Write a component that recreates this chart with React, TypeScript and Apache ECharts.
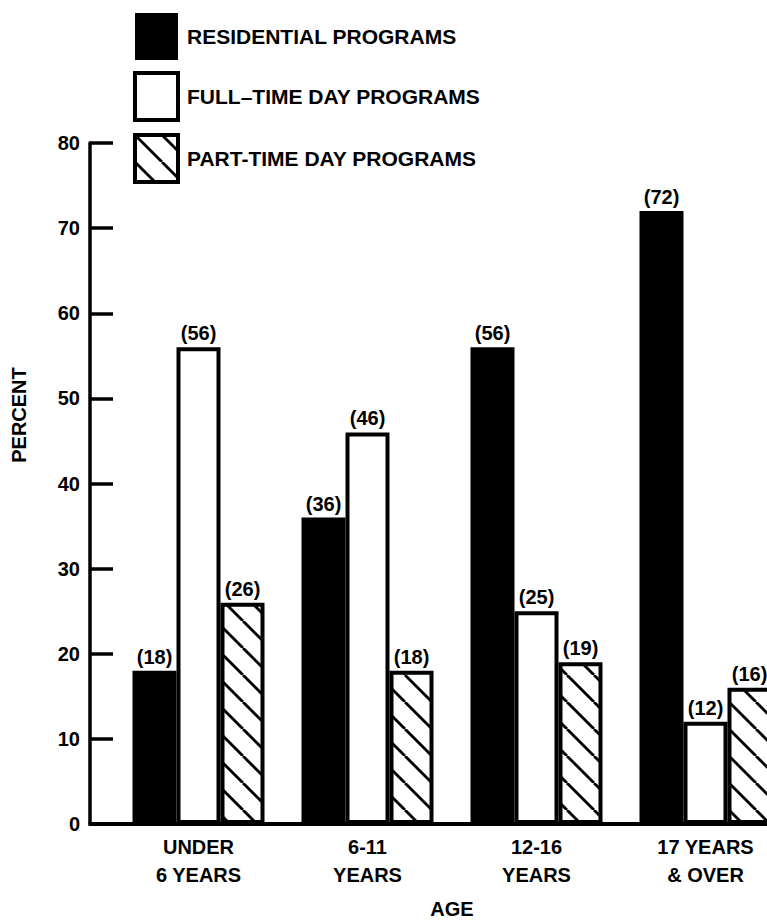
import React, { useEffect, useRef } from "react";
import * as echarts from "echarts";

const categories = ["UNDER\n6 YEARS", "6-11\nYEARS", "12-16\nYEARS", "17 YEARS\n& OVER"];
const seriesNames = ["RESIDENTIAL PROGRAMS", "FULL–TIME DAY PROGRAMS", "PART-TIME DAY PROGRAMS"];
const residential = [18, 36, 56, 72];
const fullTime = [56, 46, 25, 12];
const partTime = [26, 18, 19, 16];
const yMin = 0;
const yMax = 80;
const yInterval = 10;
const xAxisTitle = "AGE";
const yAxisTitle = "PERCENT";

const FONT = '"Liberation Sans", Arial, Helvetica, sans-serif';

function makeHatch() {
  const T = 27;
  const c = document.createElement("canvas");
  c.width = T;
  c.height = T;
  const ctx = c.getContext("2d")!;
  ctx.fillStyle = "#ffffff";
  ctx.fillRect(0, 0, T, T);
  ctx.strokeStyle = "#000000";
  ctx.lineWidth = 2.8;
  for (const o of [-T, 0, T]) {
    ctx.beginPath();
    ctx.moveTo(o, 0);
    ctx.lineTo(o + T, T);
    ctx.stroke();
  }
  return { image: c, repeat: "repeat", imageWidth: T, imageHeight: T } as any;
}

export default function App() {
  const ref = useRef<HTMLDivElement>(null);
  useEffect(() => {
    if (!ref.current) return;
    const chart = echarts.init(ref.current, null, { renderer: "svg" });
    const hatch = makeHatch();
    const label = {
      show: true,
      position: "top",
      distance: 4,
      formatter: "({c})",
      color: "#000",
      fontSize: 20,
      fontWeight: "bold",
      fontFamily: FONT,
    };
    const styles = [
      { color: "#000000", borderColor: "#000000", borderWidth: 0 },
      { color: "#ffffff", borderColor: "#000000", borderWidth: 4 },
      { color: hatch, borderColor: "#000000", borderWidth: 4 },
    ];
    const values = [residential, fullTime, partTime];
    const option: any = {
      animation: false,
      backgroundColor: "#ffffff",
      textStyle: { fontFamily: FONT },
      legend: {
        orient: "vertical",
        left: 133,
        top: 13,
        padding: 0,
        itemWidth: 43,
        itemHeight: 47,
        itemGap: 11,
        icon: "rect",
        selectedMode: false,
        data: seriesNames.map((n, i) => ({
          name: n,
          itemStyle: {
            color: styles[i].color,
            borderColor: "#000",
            borderWidth: i === 0 ? 0 : 4,
          },
        })),
        textStyle: {
          fontSize: 21,
          fontWeight: "bold",
          color: "#000",
          fontFamily: FONT,
          padding: [0, 0, 0, 4],
        },
      },
      grid: {
        left: 114,
        top: 143,
        width: 676,
        height: 681,
        containLabel: false,
        outerBoundsMode: "none",
      },
      xAxis: {
        type: "category",
        data: categories,
        axisLine: { show: true, lineStyle: { color: "#000", width: 4 } },
        axisTick: { show: false },
        axisLabel: {
          color: "#000",
          fontSize: 20,
          fontWeight: "bold",
          fontFamily: FONT,
          lineHeight: 28,
          margin: 9,
          interval: 0,
        },
        name: xAxisTitle,
        nameLocation: "middle",
        nameGap: 75,
        nameTextStyle: { color: "#000", fontSize: 20, fontWeight: "bold", fontFamily: FONT },
      },
      yAxis: {
        type: "value",
        min: yMin,
        max: yMax,
        interval: yInterval,
        offset: 24,
        axisLine: { show: true, lineStyle: { color: "#000", width: 3.5 } },
        axisTick: { show: true, inside: true, length: 23, lineStyle: { color: "#000", width: 3.5 } },
        axisLabel: {
          color: "#000",
          fontSize: 20,
          fontWeight: "bold",
          fontFamily: FONT,
          margin: 10,
        },
        splitLine: { show: false },
      },
      series: seriesNames.map((n, i) => ({
        name: n,
        type: "bar",
        data: values[i],
        barWidth: 44,
        barGap: "0%",
        itemStyle: styles[i],
        label,
      })),
    };
    chart.setOption(option);
    const y0 = chart.convertToPixel({ yAxisIndex: 0 }, yMin) as number;
    const xStart = chart.convertToPixel({ xAxisIndex: 0 }, categories[0]) as number;
    const axisX = 114 - 24;
    chart.setOption({
      graphic: [
        {
          type: "line",
          shape: { x1: axisX - 1.5, y1: y0, x2: xStart, y2: y0 },
          style: { stroke: "#000", lineWidth: 4 },
          z: 1,
        },
        {
          type: "text",
          x: 19,
          y: 415,
          rotation: Math.PI / 2,
          style: {
            text: yAxisTitle,
            align: "center",
            verticalAlign: "middle",
            fill: "#000",
            font: `bold 20px ${FONT}`,
          },
        },
      ],
    });
    return () => chart.dispose();
  }, []);
  return (
    <div
      ref={ref}
      style={{ position: "absolute", left: 0, top: 0, width: 767, height: 921, background: "#fff" }}
    />
  );
}
